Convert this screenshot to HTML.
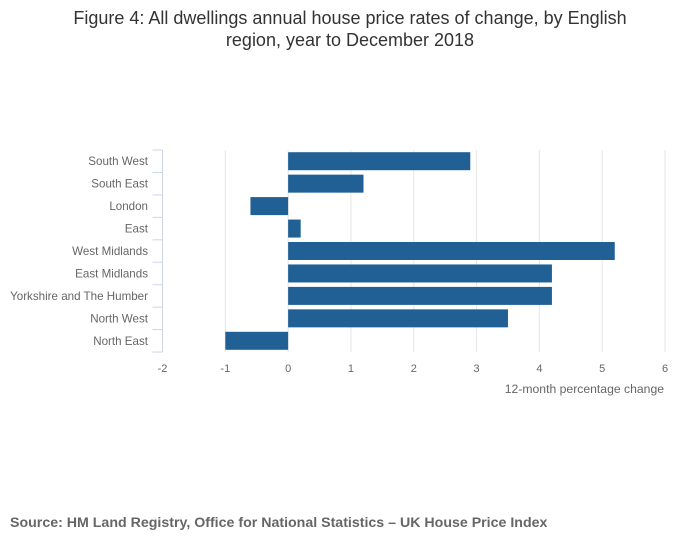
<!DOCTYPE html>
<html><head><meta charset="utf-8"><style>
body{margin:0;background:#fff;font-family:"Liberation Sans",sans-serif}
</style></head><body>
<svg width="700" height="549" xmlns="http://www.w3.org/2000/svg">
<text x="350" y="24" text-anchor="middle" font-size="18" fill="#333">Figure 4: All dwellings annual house price rates of change, by English</text>
<text x="350" y="46" text-anchor="middle" font-size="18" fill="#333">region, year to December 2018</text>
<g id="plot"></g>
<text x="664" y="393" text-anchor="end" font-size="12.2" fill="#666">12-month percentage change</text>
<text x="10" y="527" font-size="14.2" font-weight="bold" fill="#666">Source: HM Land Registry, Office for National Statistics – UK House Price Index</text>
</svg>
<script>
const categories=["South West","South East","London","East","West Midlands","East Midlands","Yorkshire and The Humber","North West","North East"];
const values=[2.9,1.2,-0.6,0.2,5.2,4.2,4.2,3.5,-1.0];
const ticks=[-2,-1,0,1,2,3,4,5,6];
const NS="http://www.w3.org/2000/svg";
const g=document.getElementById('plot');
const x0=162.5,x1=665,plotTop=150,band=22.45;
const xs=v=>x0+(v-ticks[0])/(ticks[ticks.length-1]-ticks[0])*(x1-x0);
const ys=i=>plotTop+i*band;
function mk(t,a){const e=document.createElementNS(NS,t);for(const k in a)e.setAttribute(k,a[k]);g.appendChild(e);return e;}
const bottom=ys(categories.length);
ticks.forEach(t=>{
 const l=mk('line',{x1:xs(t),x2:xs(t),y1:plotTop,y2:bottom,stroke:'#e6e6e6','stroke-width':1});
 
 
 const tx=mk('text',{x:xs(t),y:bottom+20,'text-anchor':'middle','font-size':11,fill:'#666'});
 tx.textContent=t;
 
 
});
const ax=mk('line',{x1:x0,x2:x0,y1:plotTop,y2:bottom,stroke:'#ccd6eb','stroke-width':1});


for(let i=0;i<=categories.length;i++){
 const tk=mk('line',{x1:x0-10,x2:x0,y1:ys(i),y2:ys(i),stroke:'#ccd6eb','stroke-width':1});
 
 
}
categories.forEach((c,i)=>{
 const tx=mk('text',{x:148,y:ys(i)+band/2+4,'text-anchor':'end','font-size':11.6,fill:'#666'});
 tx.textContent=c;
 
 
 const v=values[i];
 const r=mk('rect',{x:Math.min(xs(0),xs(v)),y:ys(i)+2.2,width:Math.abs(xs(v)-xs(0)),height:18,fill:'#206095'});
 
 
});
</script>
</body></html>
